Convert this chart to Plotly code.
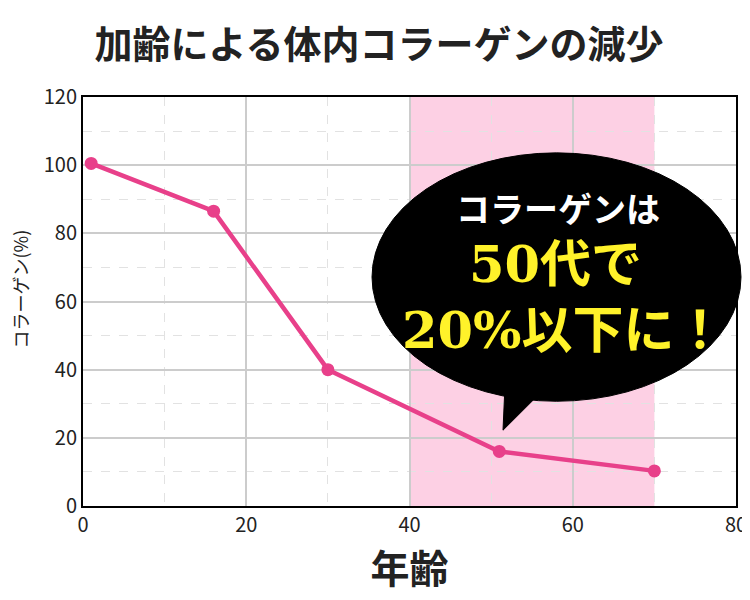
import plotly.graph_objects as go

ages = [1, 16, 30, 51, 70]
collagen = [100.5, 86.5, 40, 16, 10.3]
highlight = [40, 70]

title = "加齢による体内コラーゲンの減少"
x_label = "年齢"
y_label = "コラーゲン(%)"
bubble_lines = ["コラーゲンは", "50代で", "20%以下に！"]

pink = "#e8408a"
jp = "Noto Sans CJK JP"

fig = go.Figure()

fig.add_trace(go.Scatter(
    x=ages, y=collagen, mode="lines+markers",
    line=dict(color=pink, width=4.5),
    marker=dict(color=pink, size=13),
    showlegend=False, cliponaxis=False,
))

# shaded age band
fig.add_shape(type="rect", xref="x", yref="paper",
              x0=highlight[0], x1=highlight[1], y0=0, y1=1,
              fillcolor="#fdd0e4", line=dict(width=0), layer="below")

# speech bubble (paper coords so it can poke out of the frame)
def px(v):
    return (v - 83) / 653

def py(v):
    return (506 - v) / 410

fig.add_shape(type="path", xref="paper", yref="paper",
              path=f"M {px(503)} {py(430)} L {px(505)} {py(385)} L {px(548)} {py(385)} Z",
              fillcolor="black", line=dict(color="black", width=1), layer="above")
fig.add_shape(type="circle", xref="paper", yref="paper",
              x0=px(372), x1=px(741), y0=py(401), y1=py(152),
              fillcolor="black", line=dict(color="black", width=1), layer="above")

fig.add_annotation(xref="paper", yref="paper", x=px(558), y=py(207),
                   xanchor="center", yanchor="middle",
                   text=f"<b>{bubble_lines[0]}</b>", showarrow=False,
                   font=dict(family=jp, size=34, color="white"))
fig.add_annotation(xref="paper", yref="paper", x=px(555), y=py(263),
                   xanchor="center", yanchor="middle",
                   text=f"<b>{bubble_lines[1]}</b>", showarrow=False,
                   font=dict(family="DejaVu Serif, " + jp, size=51, color="#fff22a"))
fig.add_annotation(xref="paper", yref="paper", x=px(563), y=py(330),
                   xanchor="center", yanchor="middle",
                   text=f"<b>{bubble_lines[2]}</b>", showarrow=False,
                   font=dict(family="DejaVu Serif, " + jp, size=51, color="#fff22a"))

# y axis title sits a bit above the plot centre in the original
fig.add_annotation(xref="paper", yref="paper", x=px(20), y=py(289),
                   xanchor="center", yanchor="middle", textangle=-90,
                   text=y_label, showarrow=False,
                   font=dict(family=jp, size=18, color="#222"))

axis_common = dict(
    showline=True, linecolor="black", linewidth=2, mirror=True,
    showgrid=True, gridcolor="#cccccc", gridwidth=1.5,
    zeroline=False, ticks="", automargin=False,
    tickfont=dict(family=jp, size=20, color="#222"),
)

fig.update_xaxes(range=[0, 80], dtick=20, **axis_common,
                 minor=dict(dtick=10, showgrid=True, griddash="dash",
                            gridcolor="#e2e2e2", gridwidth=1.2),
                 title=dict(text=f"<b>{x_label}</b>",
                            font=dict(family=jp, size=39, color="#222")))
fig.update_yaxes(range=[0, 120], dtick=20, **axis_common,
                 minor=dict(dtick=10, showgrid=True, griddash="dash",
                            gridcolor="#e2e2e2", gridwidth=1.2))

# page body adds an 8px offset, so the figure is sized to fit the window
fig.update_layout(
    width=742, height=592,
    margin=dict(l=75, r=14, t=89, b=94),
    paper_bgcolor="white", plot_bgcolor="white",
    title=dict(text=f"<b>{title}</b>", x=0.5, xanchor="center",
               y=1 - 37 / 592, yanchor="middle",
               font=dict(family=jp, size=38, color="#222")),
)

fig.write_html("out.html")
